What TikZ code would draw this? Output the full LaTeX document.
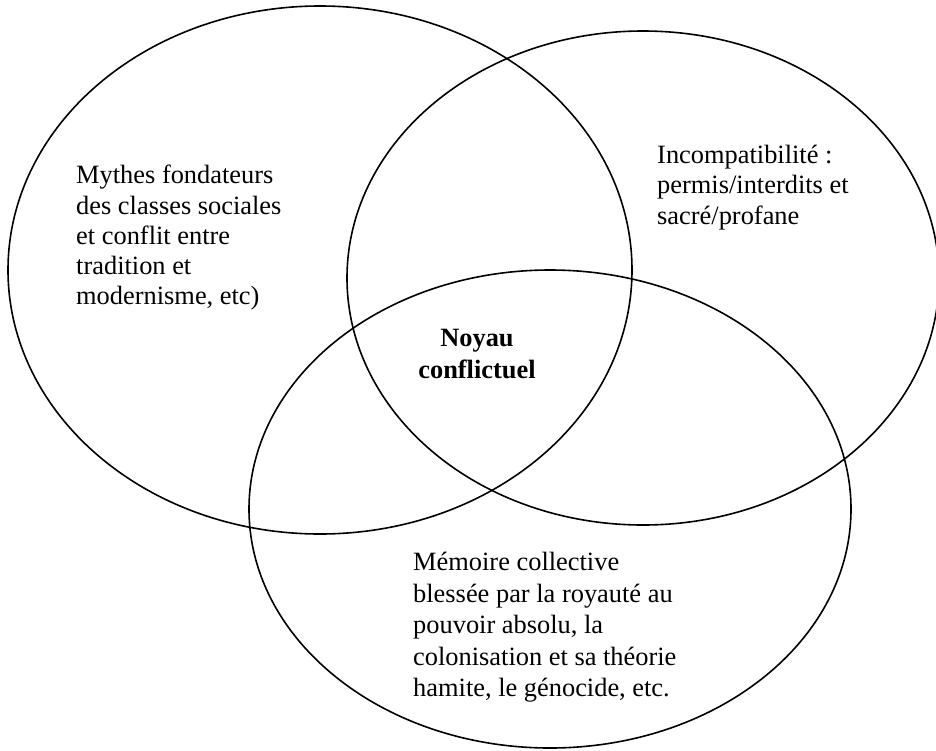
\documentclass[tikz,border=0pt]{standalone}
\usepackage{fontspec}
\setmainfont{Liberation Serif}
\begin{document}
\begin{tikzpicture}[x=1pt,y=-1pt,
  ring/.style={draw=black,line width=1.6pt},
  label/.style={inner sep=0pt,align=left,anchor=north west,font=\fontsize{26.4}{30.3}\selectfont},
  core/.style={inner sep=0pt,align=center,anchor=north,font=\fontsize{26.4}{32}\selectfont\bfseries}]
\useasboundingbox (0,0) rectangle (936,750);
% circles
\draw[ring] (320,270) ellipse [x radius=312pt, y radius=264pt];
\draw[ring] (643,278) ellipse [x radius=296pt, y radius=247pt];
\draw[ring] (550,509) ellipse [x radius=301pt, y radius=239pt];
% texts
\node[label] (mythes) at (76,165) {Mythes fondateurs\\des classes sociales\\et conflit entre\\tradition et\\modernisme, etc)};
\node[label] (incomp) at (657,145) {Incompatibilité :\\permis/interdits et\\sacré/profane};
\node[core] (noyau) at (477,329) {Noyau\\conflictuel};
\node[label,font=\fontsize{26.4}{31.5}\selectfont] (memoire) at (413,552) {Mémoire collective\\blessée par la royauté au\\pouvoir absolu, la\\colonisation et sa théorie\\hamite, le génocide, etc.};
\end{tikzpicture}
\end{document}
